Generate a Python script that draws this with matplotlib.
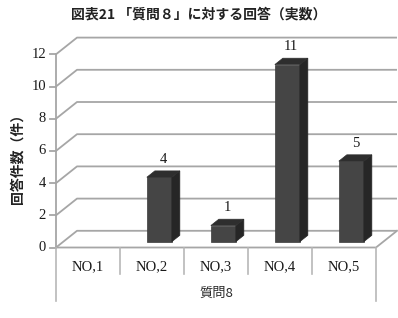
import matplotlib
matplotlib.use("Agg")
import matplotlib.pyplot as plt
from matplotlib.patches import Polygon

categories = ["NO,1", "NO,2", "NO,3", "NO,4", "NO,5"]
values = [0, 4, 1, 11, 5]
yticks = [0, 2, 4, 6, 8, 10, 12]
title = "図表21 「質問８」に対する回答（実数）"
ylabel = "回答件数（件）"
xgroup = "質問8"

W, H = 398, 318
fig = plt.figure(figsize=(W / 100, H / 100), dpi=100)
ax = fig.add_axes([0, 0, 1, 1])
ax.set_axis_off()

# pixel mapping: x=-0.5 -> 56px, 64 px per category; y=0 -> 247.5px, 16.1 px per unit
px_per_x = 64.0
px_per_y = 16.1
x_left = -0.5 - 56 / px_per_x
x_right = -0.5 + (W - 56) / px_per_x
y_top = 247.5 / px_per_y
y_bot = -(H - 247.5) / px_per_y
ax.set_xlim(x_left, x_right)
ax.set_ylim(y_bot, y_top)

dx = 21 / px_per_x
dy = 16.7 / px_per_y
n = len(categories)
x0, x1 = -0.5, n - 0.5
grid_c = "#a6a6a6"
sep_c = "#b8b8b8"
serif = ["Liberation Serif", "DejaVu Serif"]
cjk = ["Noto Sans CJK JP", "DejaVu Sans"]

# back wall gridlines with left-wall diagonals
for v in yticks:
    ax.plot([x0, x0 + dx, x1 + dx], [v, v + dy, v + dy], color=grid_c, lw=1.3,
            solid_capstyle="butt", zorder=1)
# floor front and right edge
ax.plot([x0, x1, x1 + dx], [0, 0, dy], color=grid_c, lw=1.3, zorder=1)
# front vertical axis
ax.plot([x0, x0], [0, yticks[-1]], color=grid_c, lw=1.3, zorder=1)
for v in yticks:
    ax.plot([x0 - 6 / px_per_x, x0], [v, v], color=grid_c, lw=1.3, zorder=1)
    ax.text(x0 - 10 / px_per_x, v, str(v), ha="right", va="center",
            fontsize=10.5, family=serif, color="#1a1a1a")

# category separators
for i in range(n + 1):
    xs = x0 + i
    bottom = -3.35 if i in (0, n) else -1.65
    ax.plot([xs, xs], [0, bottom], color=sep_c, lw=1.2, zorder=1)
for i, c in enumerate(categories):
    ax.text(i, -1.2, c, ha="center", va="center", fontsize=10.5,
            family=serif, color="#1a1a1a")
ax.text((x0 + x1) / 2, -2.83, xgroup, ha="center", va="center", fontsize=9.5,
        family=cjk, color="#2a2a2a")

# bars
w = 25 / px_per_x
f0, f1 = 0.35, 0.73
for i, v in enumerate(values):
    if v <= 0:
        continue
    xl = i - w / 2 + f0 * dx
    xr = i + w / 2 + f0 * dx
    b = f0 * dy
    ddx = (f1 - f0) * dx
    ddy = (f1 - f0) * dy
    front = Polygon([(xl, b), (xr, b), (xr, b + v), (xl, b + v)],
                    closed=True, facecolor="#454545", edgecolor="#3a3a3a",
                    lw=0.5, zorder=3)
    side = Polygon([(xr, b), (xr + ddx, b + ddy), (xr + ddx, b + v + ddy),
                    (xr, b + v)], closed=True, facecolor="#262626",
                   edgecolor="#262626", lw=0.5, zorder=3)
    top = Polygon([(xl, b + v), (xr, b + v), (xr + ddx, b + v + ddy),
                   (xl + ddx, b + v + ddy)], closed=True, facecolor="#2e2e2e",
                  edgecolor="#2e2e2e", lw=0.5, zorder=3)
    for p in (front, side, top):
        ax.add_patch(p)
    ax.text(i + f0 * dx + ddx / 2, v + 1.1 + b, str(v), ha="center",
            va="center", fontsize=10.5, family=serif, color="#1a1a1a")

# titles
fig.text(0.5, 1 - 15 / H, title, ha="center", va="center", fontsize=10,
         fontweight="bold", family=cjk, color="#222222")
fig.text(18 / W, 1 - 155 / H, ylabel, ha="center", va="center", rotation=90,
         fontsize=10, fontweight="bold", family=cjk, color="#222222")

fig.savefig("out.png", dpi=100, facecolor="white")
